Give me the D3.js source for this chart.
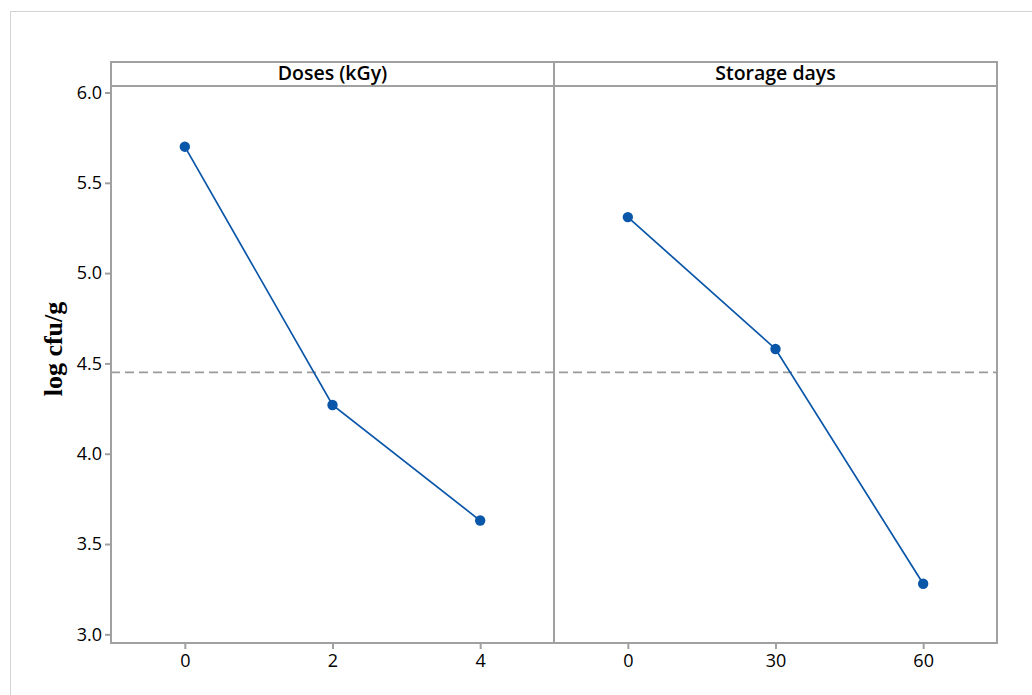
<!DOCTYPE html>
<html>
<head>
<meta charset="utf-8">
<script src="https://cdn.jsdelivr.net/npm/d3@7"></script>
<style>
  html, body { margin: 0; padding: 0; background: #fff; }
  svg { display: block; }
</style>
</head>
<body>
<svg id="chart" width="1032" height="695"></svg>
<script>
// Main effects of irradiation dose and storage time on microbial count
const panelTitles = ["Doses (kGy)", "Storage days"];
const doseLevels = ["0", "2", "4"];
const doseMeans = [5.70, 4.27, 3.63];
const storageLevels = ["0", "30", "60"];
const storageMeans = [5.31, 4.58, 3.28];
const grandMean = 4.45;
const yTicks = [3.0, 3.5, 4.0, 4.5, 5.0, 5.5, 6.0];
const yLabel = "log cfu/g";

const panels = [
  { title: panelTitles[0], levels: doseLevels, values: doseMeans },
  { title: panelTitles[1], levels: storageLevels, values: storageMeans }
];

const W = 1032, H = 695;
const plot = { left: 111, right: 997, top: 62, stripH: 24, bottom: 643 };
const frameColor = "#a0a0a0";
const lineColor = "#0a56a8";
const font = "'Open Sans', 'Noto Sans', sans-serif";

const svg = d3.select("#chart");

// outer frame of the graph window
svg.append("rect")
  .attr("x", 10.5).attr("y", 11.5)
  .attr("width", W).attr("height", H)
  .attr("fill", "none").attr("stroke", "#d4d4d4").attr("stroke-width", 1);

const dataTop = plot.top + plot.stripH;
const y = d3.scaleLinear()
  .domain([2.952, 6.036])
  .range([plot.bottom, dataTop]);

const panelW = (plot.right - plot.left) / panels.length;

// grand mean reference line across both panels
svg.append("line")
  .attr("x1", plot.left).attr("x2", plot.right)
  .attr("y1", y(grandMean)).attr("y2", y(grandMean))
  .attr("stroke", "#9a9a9a").attr("stroke-width", 1.7)
  .attr("stroke-dasharray", "9,5");

panels.forEach((p, i) => {
  const x0 = plot.left + i * panelW;
  const x = d3.scalePoint().domain(p.levels).range([x0, x0 + panelW]).padding(0.5);
  const g = svg.append("g");

  const pts = p.levels.map((lv, k) => [x(lv), y(p.values[k])]);
  g.append("path")
    .attr("d", d3.line()(pts))
    .attr("fill", "none").attr("stroke", lineColor).attr("stroke-width", 1.7);
  g.selectAll("circle").data(pts).join("circle")
    .attr("cx", d => d[0]).attr("cy", d => d[1]).attr("r", 5.2)
    .attr("fill", lineColor);

  // x axis ticks and labels
  const xa = svg.append("g").attr("transform", `translate(0,${plot.bottom})`)
    .call(d3.axisBottom(x).tickSize(6).tickPadding(5));
  xa.select(".domain").remove();
  xa.selectAll("line").attr("stroke", frameColor).attr("stroke-width", 2);
  xa.selectAll("text").attr("font-family", font).attr("font-size", 18).attr("fill", "#000");

  // strip title
  svg.append("text")
    .attr("x", x0 + panelW / 2).attr("y", plot.top + plot.stripH / 2 + 1)
    .attr("text-anchor", "middle").attr("dominant-baseline", "middle")
    .attr("font-family", font).attr("font-weight", 600).attr("font-size", 19.5)
    .attr("fill", "#000").text(p.title);
});

// panel frames
const frame = svg.append("g").attr("fill", "none").attr("stroke", frameColor).attr("stroke-width", 2);
frame.append("rect")
  .attr("x", plot.left).attr("y", plot.top)
  .attr("width", plot.right - plot.left).attr("height", plot.bottom - plot.top);
frame.append("line")
  .attr("x1", plot.left).attr("x2", plot.right).attr("y1", dataTop).attr("y2", dataTop);
frame.append("line")
  .attr("x1", plot.left + panelW).attr("x2", plot.left + panelW)
  .attr("y1", plot.top).attr("y2", plot.bottom);

// y axis
const ya = svg.append("g").attr("transform", `translate(${plot.left},0)`)
  .call(d3.axisLeft(y).tickValues(yTicks).tickFormat(d3.format(".1f")).tickSize(6).tickPadding(3));
ya.select(".domain").remove();
ya.selectAll("line").attr("stroke", frameColor).attr("stroke-width", 2);
ya.selectAll("text").attr("font-family", font).attr("font-size", 18).attr("fill", "#000");

svg.append("text")
  .attr("transform", `translate(62,349) rotate(-90)`)
  .attr("text-anchor", "middle")
  .attr("font-family", "'Liberation Serif', 'Times New Roman', serif")
  .attr("font-weight", "bold").attr("font-size", 26)
  .attr("fill", "#000").text(yLabel);
</script>
</body>
</html>
